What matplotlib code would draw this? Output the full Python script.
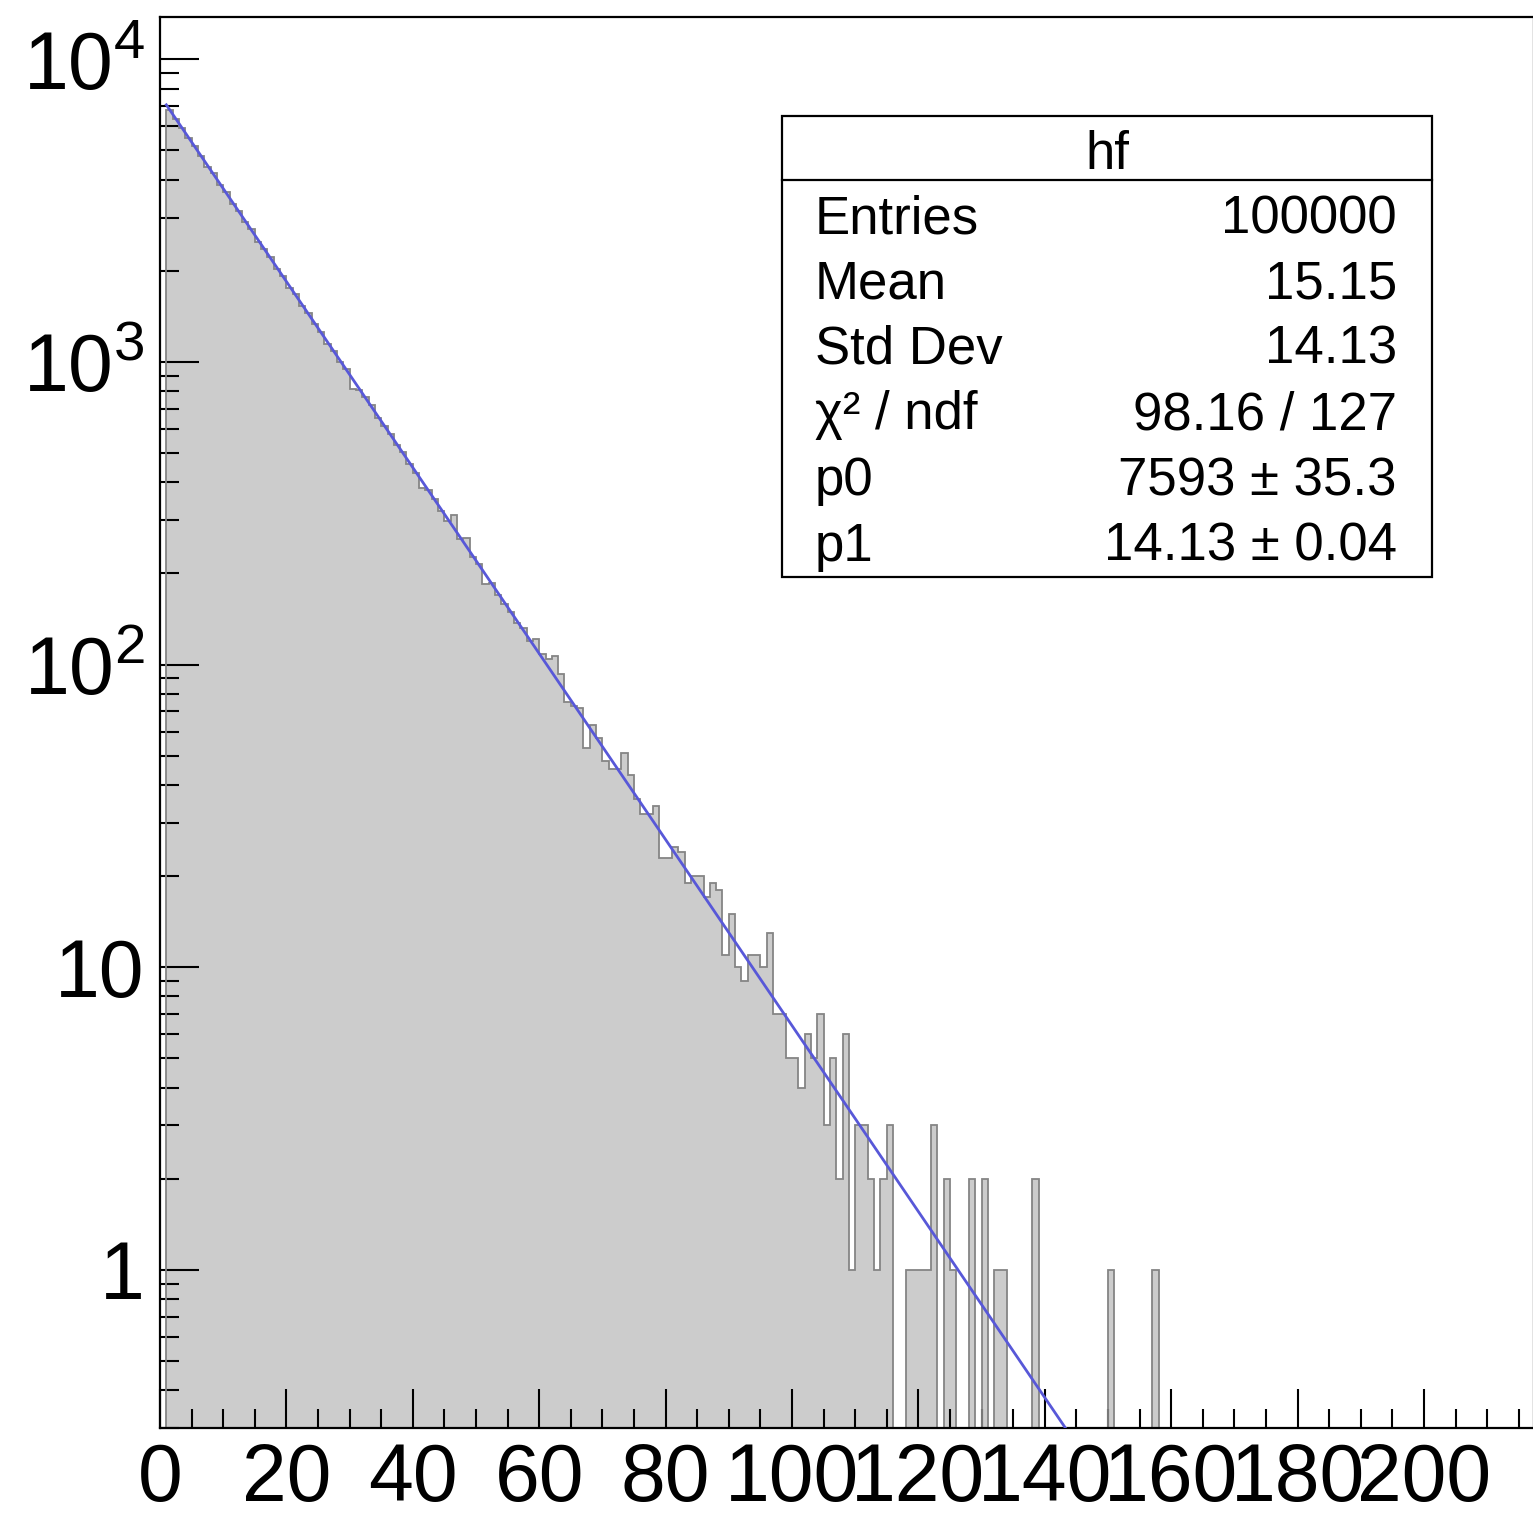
import numpy as np
import matplotlib
matplotlib.use("Agg")
import matplotlib.pyplot as plt
from matplotlib.patches import Rectangle
from matplotlib.lines import Line2D

plt.rcParams['font.family'] = ['Liberation Sans', 'DejaVu Sans']
plt.rcParams['mathtext.fontset'] = 'custom'
plt.rcParams['mathtext.rm'] = 'Liberation Sans'
plt.rcParams['mathtext.it'] = 'Liberation Sans:italic'
plt.rcParams['mathtext.bf'] = 'Liberation Sans:bold'

# ---------------- data ----------------
x_min, x_max, bin_width = 0, 217, 1
# counts for bins [0,1), [1,2), ...
counts = [0,
    6780, 6330, 5950, 5480, 5160, 4790, 4420, 4200, 3850, 3640,
    3330, 3160, 2900, 2740, 2500, 2370, 2230, 2030, 1920, 1760,
    1680, 1530, 1450, 1330, 1260, 1150, 1090, 1000, 945, 812,
    808, 768, 722, 655, 612, 578, 530, 505, 460, 428,
    384, 378, 352, 322, 298, 313, 260, 262, 226, 215,
    184, 186, 170, 158, 149, 137, 132, 120, 121, 108,
    104, 107, 93, 75, 73, 72, 53, 63, 57, 48,
    45, 45, 51, 43, 36, 32, 32, 34, 23, 23,
    25, 24, 19, 20, 20, 17, 19, 18, 11, 15,
    10, 9, 11, 11, 10, 13, 7, 7, 5, 5,
    4, 6, 5, 7, 3, 5, 2, 6, 1, 3,
    3, 2, 1, 2, 3, 0, 0, 1, 1, 1,
    1, 3, 0, 2, 1, 0, 0, 2, 0, 2,
    0, 1, 1, 0, 0, 0, 0, 2, 0, 0,
    0, 0, 0, 0, 0, 0, 0, 0, 0, 1,
    0, 0, 0, 0, 0, 0, 1]
counts = counts + [0] * ((x_max - x_min) // bin_width - len(counts))

fit_p0, fit_p1 = 7593.0, 14.13
fit_range = (1, 217)

stat_title = "hf"
stat_labels = ["Entries", "Mean", "Std Dev", "\u03c7\u00b2 / ndf", "p0", "p1"]
stat_values = ["100000", "15.15", "14.13", "98.16 / 127", "7593 \u00b1 35.3", "14.13 \u00b1 0.04"]

x_ticks = [0, 20, 40, 60, 80, 100, 120, 140, 160, 180, 200]
y_ticks = [1, 10, 100, 1000, 10000]
y_ticklabels = ["1", "10", r"$\mathregular{10^{2}}$", r"$\mathregular{10^{3}}$", r"$\mathregular{10^{4}}$"]
y_lim = (0.3, 13800)
x_view = (0, 217.4)

# ---------------- figure ----------------
W, H = 1533, 1520
fig = plt.figure(figsize=(W / 100, H / 100), dpi=100)
ax = fig.add_axes([160 / W, 1 - 1428 / H, (1534 - 160) / W, (1428 - 17) / H])

edges = np.arange(x_min, x_max + bin_width, bin_width)
vals = np.array(counts, dtype=float)
disp = np.where(vals > 0, vals, 1e-3)
ax.stairs(disp, edges, baseline=1e-3, fill=True, color='#cccccc', zorder=1)
ax.stairs(disp, edges, baseline=1e-3, fill=False, color='#858585', linewidth=1.3, zorder=2)

xf = np.linspace(fit_range[0], fit_range[1], 100)
ax.plot(xf, fit_p0 * np.exp(-xf / fit_p1), color='#5858d8', linewidth=2.0, zorder=3)

ax.set_yscale('log')
ax.set_xlim(*x_view)
ax.set_ylim(*y_lim)

ax.set_xticks(x_ticks)
ax.set_xticklabels([str(t) for t in x_ticks])
ax.set_xticks(np.arange(0, x_max + 1, 5), minor=True)
ax.set_yticks(y_ticks)
ax.set_yticklabels(y_ticklabels)
minor_y = [m * 10.0 ** e for e in range(-1, 5) for m in range(2, 10)]
minor_y = [v for v in minor_y if y_lim[0] <= v <= y_lim[1]]
ax.set_yticks(minor_y, minor=True)
ax.yaxis.set_minor_formatter(matplotlib.ticker.NullFormatter())

ax.tick_params(axis='both', which='major', direction='in', length=28, width=1.5,
               labelsize=58, top=False, right=False)
ax.tick_params(axis='both', which='minor', direction='in', length=14, width=1.5,
               top=False, right=False)
ax.tick_params(axis='x', which='major', pad=10)
ax.tick_params(axis='y', which='major', pad=11)
for s in ax.spines.values():
    s.set_linewidth(1.6)

# ---------------- stats box ----------------
bx0, bx1, by0, by1 = 782, 1432, 116, 577
fig.add_artist(Rectangle((bx0 / W, 1 - by1 / H), (bx1 - bx0) / W, (by1 - by0) / H,
                         transform=fig.transFigure, facecolor='white',
                         edgecolor='black', linewidth=1.6, zorder=10))
fig.add_artist(Line2D([bx0 / W, bx1 / W], [1 - 180 / H, 1 - 180 / H],
                      transform=fig.transFigure, color='black', linewidth=1.6, zorder=11))
fig.text((bx0 + bx1) / 2 / W, 1 - 169 / H, stat_title, ha='center', va='baseline',
         fontsize=38, zorder=12)
base0, step = 233, 65.5
for i, (lab, val) in enumerate(zip(stat_labels, stat_values)):
    yb = 1 - (base0 + i * step) / H
    fig.text(815 / W, yb, lab, ha='left', va='baseline', fontsize=38, zorder=12)
    fig.text(1397 / W, yb, val, ha='right', va='baseline', fontsize=38, zorder=12)

fig.savefig("out.png", dpi=100)
